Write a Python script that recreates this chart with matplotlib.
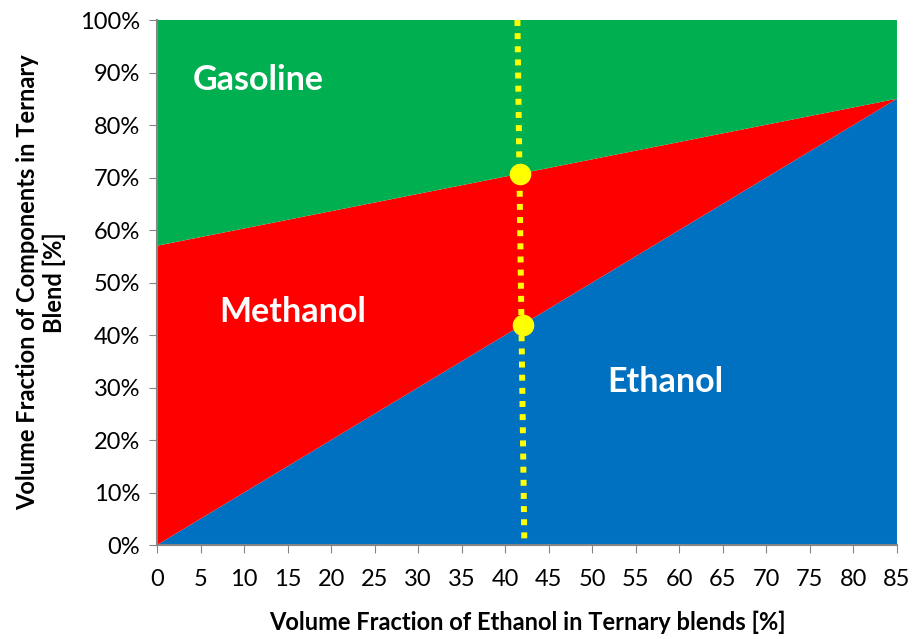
import matplotlib
matplotlib.use('Agg')
import matplotlib.pyplot as plt
from matplotlib.ticker import PercentFormatter

# ethanol share in the blend [%] and the stacked component shares [%]
ethanol_x = [0, 85]
ethanol = [0, 85]
methanol = [57, 0]
gasoline = [43, 15]

# marked blend and the vertical guide through it
guide_x = [41.4, 42.2]
guide_y = [100, 0]
point_x = [41.7, 42.0]
point_y = [70.7, 42.0]

plt.rcParams['font.family'] = ['Lato', 'DejaVu Sans']

fig = plt.figure(figsize=(9.15, 6.39), dpi=100)
ax = fig.add_axes([0.1716, 0.1471, 0.8087, 0.8216])

ax.stackplot(ethanol_x, ethanol, methanol, gasoline,
             colors=['#0070C0', '#FF0000', '#00B050'], linewidth=0)

ax.plot(guide_x, guide_y, color='#FFFF00', lw=4.3, ls=(0, (1, 1.2)),
        dash_capstyle='butt', zorder=3)
ax.plot(point_x, point_y, 'o', color='#FFFF00', ms=14.5, zorder=4)

ax.text(4.1, 88.6, 'Gasoline', color='white', fontsize=24.5, fontweight='bold', va='center')
ax.text(7.1, 44.3, 'Methanol', color='white', fontsize=24.5, fontweight='bold', va='center')
ax.text(58.4, 31.0, 'Ethanol', color='white', fontsize=24.5, fontweight='bold',
        va='center', ha='center')

ax.set_xlim(0, 85)
ax.set_ylim(0, 100)
ax.set_xticks(range(0, 86, 5))
ax.set_yticks(range(0, 101, 10))
ax.yaxis.set_major_formatter(PercentFormatter(decimals=0))
ax.tick_params(labelsize=17, color='#868686', length=6, pad=6)
ax.tick_params(axis='x', pad=11)

for s in ['top', 'right']:
    ax.spines[s].set_visible(False)
for s in ['left', 'bottom']:
    ax.spines[s].set_color('#868686')
    ax.spines[s].set_linewidth(1.5)

ax.set_xlabel('Volume Fraction of Ethanol in Ternary blends [%]',
              fontsize=17, fontweight='bold', labelpad=15)
ax.set_ylabel('Volume Fraction of Components in Ternary\nBlend [%]',
              fontsize=17, fontweight='bold', labelpad=10)

fig.savefig('out.png', dpi=100)
